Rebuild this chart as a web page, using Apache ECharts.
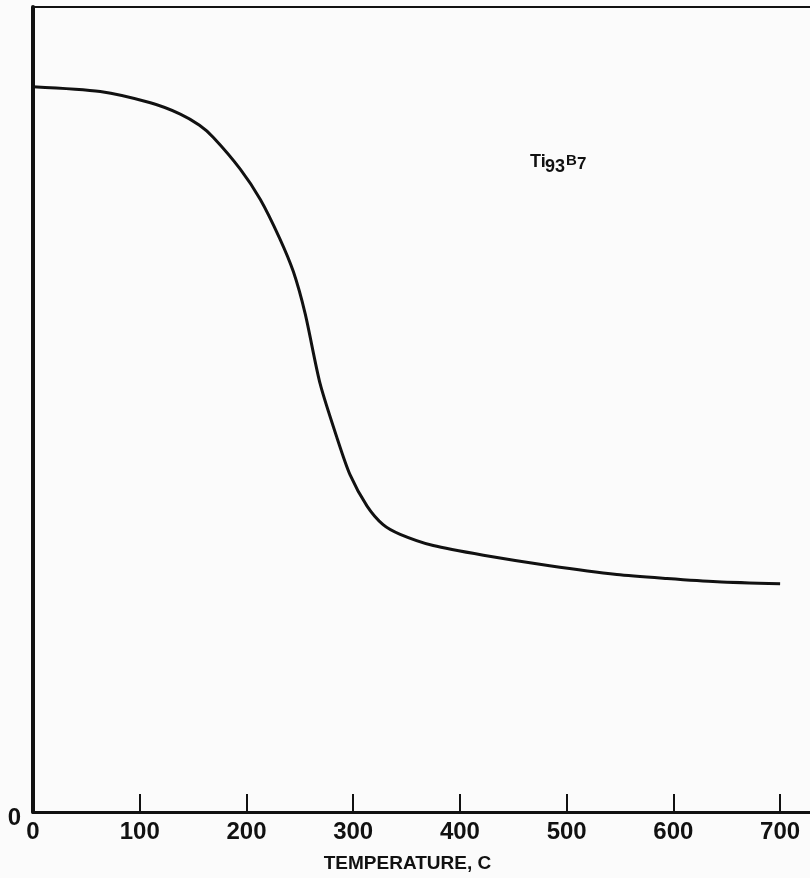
<!DOCTYPE html>
<html>
<head>
<meta charset="utf-8">
<script src="https://cdn.jsdelivr.net/npm/echarts@6/dist/echarts.min.js"></script>
<style>
html,body{margin:0;padding:0;background:#fbfbfb;}
#chart{width:810px;height:878px;}
</style>
</head>
<body>
<div id="chart"></div>
<script>
// Temperature (C) of curve points
const temperature = [0, 63, 110, 138, 156, 169, 194, 213, 231, 244, 255, 269, 285, 297, 313, 328, 344, 375, 422, 484, 547, 594, 641, 700];
// Relative value (arbitrary units, axis 0..100)
const curveValues = [90.1, 89.5, 88.1, 86.7, 85.3, 83.8, 79.9, 76.1, 71.3, 67.1, 61.9, 53.2, 46.4, 41.9, 38.0, 35.7, 34.5, 33.1, 31.9, 30.6, 29.5, 29.0, 28.6, 28.35];
const xTickValues = [0, 100, 200, 300, 400, 500, 600, 700];
const yTickValues = [0];
const xAxisTitle = 'TEMPERATURE, C';

const chart = echarts.init(document.getElementById('chart'), null, {renderer: 'canvas'});
const labelFont = {fontFamily: '"Liberation Sans Narrow", "Liberation Sans"', fontWeight: 'bold', fontSize: 24, color: '#111'};

chart.setOption({
  backgroundColor: '#fbfbfb',
  animation: false,
  grid: {left: 33, right: 0, top: 7, bottom: 58, containLabel: false},
  xAxis: [{
    type: 'value', min: 0, max: 728, position: 'bottom',
    axisLine: {show: true, lineStyle: {color: '#111', width: 3}},
    axisTick: {show: true, inside: true, length: 18, customValues: xTickValues, lineStyle: {color: '#111', width: 2}},
    axisLabel: Object.assign({show: true, customValues: xTickValues, margin: 8}, labelFont),
    splitLine: {show: false},
    name: xAxisTitle, nameLocation: 'middle', nameGap: 42,
    nameTextStyle: {fontFamily: 'Liberation Sans', fontWeight: 'bold', fontSize: 19, color: '#111', padding: [0, 28, 0, 0]}
  }, {
    type: 'value', min: 0, max: 728, position: 'top',
    axisLine: {show: true, onZero: false, lineStyle: {color: '#111', width: 2}},
    axisTick: {show: false}, axisLabel: {show: false}, splitLine: {show: false}
  }],
  yAxis: {
    type: 'value', min: 0, max: 100,
    axisLine: {show: true, lineStyle: {color: '#111', width: 4}},
    axisTick: {show: false},
    axisLabel: Object.assign({show: true, customValues: yTickValues, margin: 12, verticalAlign: 'top', padding: [-6, 0, 0, 0]}, labelFont),
    splitLine: {show: false}
  },
  graphic: [
    {type: 'text', left: 530, top: 153, style: {text: 'Ti', font: 'bold 18px "Liberation Sans"', fill: '#111'}},
    {type: 'text', left: 545, top: 158, style: {text: '93', font: 'bold 18px "Liberation Sans"', fill: '#111'}},
    {type: 'text', left: 566, top: 153, style: {text: 'B', font: 'bold 15px "Liberation Sans"', fill: '#111'}},
    {type: 'text', left: 577, top: 156, style: {text: '7', font: 'bold 17px "Liberation Sans"', fill: '#111'}}
  ],
  series: [{
    type: 'line', xAxisIndex: 0,
    data: temperature.map((t, i) => [t, curveValues[i]]),
    smooth: 0.25, symbol: 'none',
    lineStyle: {color: '#111', width: 3}
  }]
});
</script>
</body>
</html>
